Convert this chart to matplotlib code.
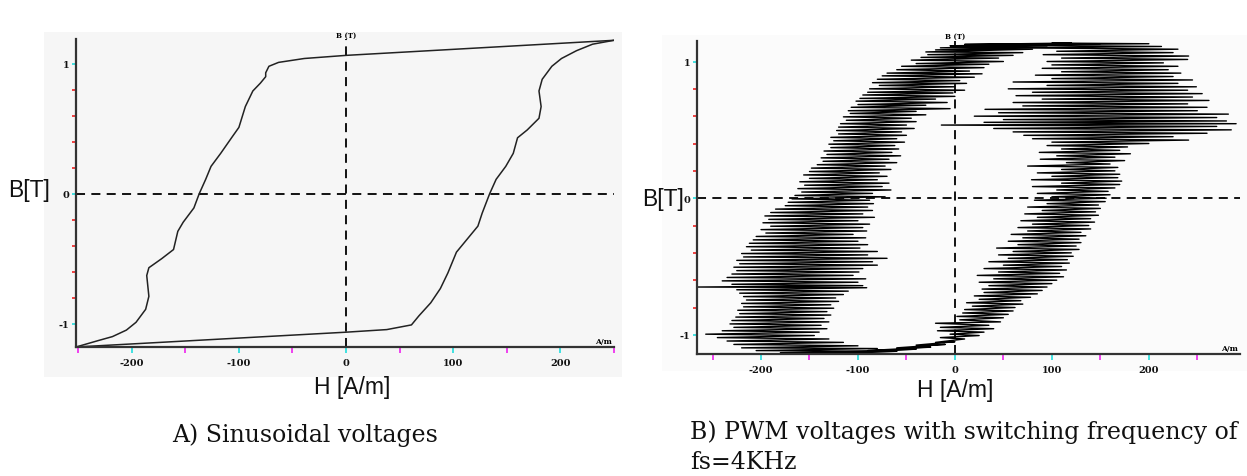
import numpy as np
import matplotlib
matplotlib.use("Agg")
import matplotlib.pyplot as plt

# --- sinusoidal loop (A) as (H [A/m], B [T]) ---
sin_descending = [
    (250, 1.18), (0, 1.064), (-39, 1.04), (-63, 1.01), (-72, 0.98),
    (-75, 0.93), (-75, 0.90), (-80, 0.85), (-87, 0.79), (-94, 0.67),
    (-100, 0.51), (-106, 0.44), (-117, 0.31), (-126, 0.21), (-131, 0.11),
    (-137, 0.0), (-142, -0.11), (-152, -0.22), (-157, -0.29), (-161, -0.43),
    (-172, -0.50), (-184, -0.57), (-186, -0.63), (-185, -0.71), (-184, -0.79),
    (-187, -0.89), (-196, -0.99), (-205, -1.05), (-218, -1.10), (-231, -1.13),
    (-252, -1.18),
]
sin_ascending = [
    (-252, -1.18), (0, -1.066), (38, -1.046), (61, -1.01), (68, -0.94),
    (79, -0.84), (88, -0.73), (95, -0.61), (103, -0.45), (112, -0.36),
    (123, -0.25), (127, -0.15), (134, 0.0), (140, 0.11), (149, 0.21),
    (156, 0.31), (160, 0.43), (169, 0.49), (180, 0.58), (182, 0.67),
    (180, 0.79), (183, 0.88), (192, 0.98), (201, 1.04), (215, 1.10),
    (230, 1.15), (250, 1.18),
]

# --- PWM loop (B), fs = 4 kHz, zig-zag strokes ---
pwm_descending = [
    (120, 1.135), (10, 1.125), (150, 1.13), (-5, 1.115), (110, 1.12), (-15, 1.10),
    (95, 1.105), (-20, 1.085), (80, 1.09), (-30, 1.07), (70, 1.065), (-28, 1.05),
    (60, 1.045), (-35, 1.03), (45, 1.025), (-45, 1.01), (50, 1.0), (-40, 0.985),
    (35, 0.98), (-55, 0.965), (30, 0.955), (-60, 0.94), (15, 0.93), (-70, 0.915),
    (28, 0.91), (-75, 0.895), (20, 0.885), (-80, 0.87), (5, 0.86), (-85, 0.845),
    (12, 0.84), (-78, 0.825), (0, 0.815), (-88, 0.80), (10, 0.79), (-90, 0.775),
    (-2, 0.77), (-95, 0.755), (0, 0.745), (-98, 0.73), (-20, 0.725), (-102, 0.71),
    (-8, 0.70), (-100, 0.685), (-30, 0.68), (-107, 0.665), (-5, 0.655), (-110, 0.64),
    (-40, 0.635), (-108, 0.62), (-30, 0.61), (-115, 0.595), (-45, 0.585), (-112, 0.57),
    (-40, 0.56), (-118, 0.545), (-50, 0.535), (-120, 0.52), (-42, 0.51), (-122, 0.495),
    (-55, 0.485), (-120, 0.47), (-50, 0.46), (-128, 0.445), (-60, 0.435), (-125, 0.42),
    (-52, 0.41), (-130, 0.395), (-62, 0.385), (-128, 0.37), (-58, 0.36), (-135, 0.345),
    (-65, 0.335), (-132, 0.32), (-56, 0.31), (-138, 0.295), (-68, 0.285), (-136, 0.27),
    (-60, 0.26), (-142, 0.245), (-72, 0.235), (-148, 0.22), (-66, 0.21), (-150, 0.195),
    (-78, 0.185), (-156, 0.17), (-70, 0.16), (-150, 0.145), (-80, 0.135), (-160, 0.12),
    (-68, 0.11), (-155, 0.095), (-75, 0.085), (-162, 0.07), (-66, 0.06), (-158, 0.045),
    (-85, 0.035), (-165, 0.02), (-72, 0.01), (-168, -0.005), (-88, -0.015), (-172, -0.03),
    (-84, -0.04), (-175, -0.055), (-90, -0.065), (-185, -0.08), (-85, -0.09), (-190, -0.105),
    (-95, -0.115), (-196, -0.13), (-83, -0.14), (-192, -0.155), (-100, -0.165), (-198, -0.18),
    (-88, -0.19), (-190, -0.205), (-95, -0.215), (-200, -0.23), (-91, -0.24), (-195, -0.255),
    (-105, -0.265), (-205, -0.28), (-92, -0.29), (-208, -0.305), (-100, -0.315), (-212, -0.33),
    (-90, -0.34), (-215, -0.355), (-98, -0.365), (-210, -0.38), (-80, -0.39), (-220, -0.405),
    (-90, -0.415), (-218, -0.43), (-70, -0.44), (-225, -0.455), (-85, -0.465), (-222, -0.48),
    (-80, -0.49), (-228, -0.505), (-95, -0.515), (-225, -0.53), (-99, -0.54), (-230, -0.555),
    (-105, -0.565), (-235, -0.58), (-92, -0.59), (-240, -0.605), (-100, -0.615), (-230, -0.63),
    (-95, -0.64), (-266, -0.65), (-91, -0.655), (-225, -0.67), (-110, -0.68), (-222, -0.695),
    (-115, -0.705), (-218, -0.72), (-123, -0.73), (-215, -0.745), (-120, -0.755), (-220, -0.77),
    (-128, -0.78), (-218, -0.795), (-125, -0.805), (-224, -0.82), (-132, -0.83), (-222, -0.845),
    (-128, -0.855), (-226, -0.87), (-135, -0.88), (-230, -0.895), (-130, -0.905), (-232, -0.92),
    (-138, -0.93), (-228, -0.945), (-132, -0.955), (-240, -0.97), (-140, -0.98), (-257, -0.995),
    (-145, -1.005), (-245, -1.02), (-130, -1.03), (-235, -1.045), (-115, -1.055), (-228, -1.07),
    (-100, -1.08), (-220, -1.095), (-80, -1.10), (-205, -1.115), (-60, -1.12), (-180, -1.13),
    (-110, -1.135),
]
pwm_ascending = [
    (-110, -1.135), (-60, -1.12), (-120, -1.125), (-40, -1.105), (-90, -1.115), (-25, -1.09),
    (-60, -1.095), (-10, -1.07), (-40, -1.075), (0, -1.05), (-20, -1.055), (10, -1.03),
    (-15, -1.02), (25, -1.005), (-5, -0.995), (30, -0.98), (-18, -0.97), (40, -0.955),
    (-15, -0.945), (35, -0.93), (-20, -0.915), (47, -0.905), (5, -0.89), (50, -0.875),
    (2, -0.865), (55, -0.85), (8, -0.84), (60, -0.825), (10, -0.815), (62, -0.80),
    (18, -0.79), (70, -0.775), (12, -0.765), (68, -0.75), (25, -0.74), (78, -0.725),
    (20, -0.715), (85, -0.70), (30, -0.69), (90, -0.675), (28, -0.665), (95, -0.65),
    (35, -0.64), (100, -0.625), (25, -0.615), (105, -0.60), (40, -0.59), (112, -0.575),
    (23, -0.565), (108, -0.55), (45, -0.54), (115, -0.525), (30, -0.515), (110, -0.50),
    (50, -0.49), (118, -0.475), (35, -0.465), (116, -0.45), (55, -0.44), (122, -0.425),
    (45, -0.415), (120, -0.40), (60, -0.39), (128, -0.375), (43, -0.365), (125, -0.35),
    (65, -0.34), (130, -0.325), (55, -0.315), (128, -0.30), (70, -0.29), (135, -0.275),
    (58, -0.265), (130, -0.25), (75, -0.24), (140, -0.225), (65, -0.215), (138, -0.20),
    (80, -0.19), (144, -0.175), (68, -0.165), (140, -0.15), (85, -0.14), (148, -0.125),
    (72, -0.115), (145, -0.10), (90, -0.09), (150, -0.075), (75, -0.065), (148, -0.05),
    (95, -0.04), (155, -0.025), (82, -0.015), (156, 0.0), (100, 0.01), (160, 0.025),
    (85, 0.035), (158, 0.05), (105, 0.06), (165, 0.075), (80, 0.085), (170, 0.10),
    (110, 0.11), (172, 0.125), (79, 0.135), (168, 0.15), (100, 0.16), (170, 0.175),
    (85, 0.185), (165, 0.20), (110, 0.21), (168, 0.225), (75, 0.235), (160, 0.25),
    (115, 0.26), (175, 0.275), (88, 0.285), (165, 0.30), (105, 0.31), (181, 0.325),
    (87, 0.335), (170, 0.35), (110, 0.36), (178, 0.375), (95, 0.385), (200, 0.40),
    (100, 0.41), (241, 0.425), (80, 0.435), (225, 0.45), (71, 0.46), (260, 0.475),
    (60, 0.485), (285, 0.50), (40, 0.51), (270, 0.525), (-14, 0.535), (290, 0.545),
    (30, 0.555), (280, 0.565), (50, 0.575), (270, 0.59), (20, 0.60), (282, 0.615),
    (45, 0.625), (250, 0.64), (31, 0.65), (260, 0.665), (70, 0.675), (240, 0.69),
    (60, 0.70), (262, 0.715), (90, 0.725), (245, 0.74), (63, 0.75), (255, 0.765),
    (80, 0.775), (240, 0.79), (55, 0.80), (249, 0.815), (95, 0.825), (230, 0.84),
    (60, 0.85), (245, 0.865), (100, 0.875), (225, 0.89), (83, 0.90), (233, 0.915),
    (110, 0.925), (220, 0.94), (90, 0.95), (230, 0.965), (100, 0.975), (215, 0.99),
    (95, 1.00), (240, 1.015), (110, 1.025), (241, 1.04), (91, 1.05), (225, 1.065),
    (105, 1.075), (230, 1.09), (60, 1.10), (213, 1.11), (31, 1.12), (200, 1.13),
    (100, 1.135), (120, 1.135),
]

x_major = [-200, -100, 0, 100, 200]
x_minor = [-250, -150, -50, 50, 150, 250]
y_major = [-1, 0, 1]
y_minor = [-0.8, -0.6, -0.4, -0.2, 0.2, 0.4, 0.6, 0.8]

captions = ["A) Sinusoidal voltages",
            "B) PWM voltages with switching frequency of\nfs=4KHz"]

W, H = 1247, 477
fig = plt.figure(figsize=(W / 100, H / 100), dpi=100)


def px_rect(x0, y0, x1, y1):
    # pixel box (top-left origin) -> figure fraction [l, b, w, h]
    return [x0 / W, 1 - y1 / H, (x1 - x0) / W, (y1 - y0) / H]


# light panel backgrounds, added first so they sit under the plots
for box, col in [((44, 33, 622, 378), "#f6f6f6"),
                 ((662, 36, 1247, 372), "#fbfbfb")]:
    bg = fig.add_axes(px_rect(*box))
    bg.set_facecolor(col)
    bg.set_xticks([])
    bg.set_yticks([])
    for s in bg.spines.values():
        s.set_visible(False)


def setup_axes(box, xlim, ylim):
    ax = fig.add_axes(px_rect(*box))
    ax.set_facecolor("none")
    ax.set_xlim(*xlim)
    ax.set_ylim(*ylim)
    for s in ["top", "right"]:
        ax.spines[s].set_visible(False)
    for s in ["left", "bottom"]:
        ax.spines[s].set_color("#333333")
        ax.spines[s].set_linewidth(1.6)
    ax.set_xticks(x_major)
    ax.set_xticks(x_minor, minor=True)
    ax.set_yticks(y_major)
    ax.set_yticks(y_minor, minor=True)
    ax.set_xticklabels([str(v) for v in x_major])
    ax.set_yticklabels([str(v) for v in y_major])
    ax.tick_params(axis="x", which="major", colors="#22dddd", length=4, width=1.2,
                   labelcolor="#111111", labelsize=7, pad=4)
    ax.tick_params(axis="x", which="minor", colors="#ee22ee", length=4, width=1.2)
    ax.tick_params(axis="y", which="major", colors="#22dddd", length=3, width=1.2,
                   labelcolor="#111111", labelsize=7, pad=2)
    ax.tick_params(axis="y", which="minor", colors="#ee2222", length=3, width=1.2)
    for lab in ax.get_xticklabels() + ax.get_yticklabels():
        lab.set_fontweight("bold")
        lab.set_family("DejaVu Serif")
    ax.axhline(0, color="black", lw=1.3, ls=(0, (5, 3.5)), zorder=1)
    ax.axvline(0, color="black", lw=1.3, ls=(0, (5, 3.5)), zorder=1)
    ax.text(0, ylim[1] + 0.005, "B (T)", ha="center", va="bottom", fontsize=5,
            fontweight="bold", family="DejaVu Serif", clip_on=False)
    ax.text(xlim[1] - 2, ylim[0] + 0.015, "A/m", ha="right", va="bottom", fontsize=5.5,
            fontweight="bold", family="DejaVu Serif")
    return ax


# panel A
ax1 = setup_axes((76, 40, 614, 348), (-252, 250), (-1.18, 1.19))
hd, bd = zip(*sin_descending)
ha_, ba = zip(*sin_ascending)
ax1.plot(hd, bd, color="#222222", lw=1.1, zorder=2)
ax1.plot(ha_, ba, color="#222222", lw=1.1, zorder=2)

# panel B
ax2 = setup_axes((697, 42, 1240, 355), (-266, 294), (-1.14, 1.15))
pd_h, pd_b = zip(*pwm_descending)
pa_h, pa_b = zip(*pwm_ascending)
ax2.plot(pd_h, pd_b, color="black", lw=1.0, zorder=2, clip_on=False)
ax2.plot(pa_h, pa_b, color="black", lw=1.0, zorder=2, clip_on=False)

# axis titles
lab_font = dict(family="Liberation Sans", fontsize=16.5, color="#111111")
fig.text(29 / W, 1 - 190 / H, "B[T]", ha="center", va="center", **lab_font)
fig.text(352 / W, 1 - 388 / H, "H [A/m]", ha="center", va="center", **lab_font)
fig.text(663 / W, 1 - 200 / H, "B[T]", ha="center", va="center", **lab_font)
fig.text(955 / W, 1 - 390 / H, "H [A/m]", ha="center", va="center", **lab_font)

# captions
cap_font = dict(family="DejaVu Serif", fontsize=17, color="#111111")
fig.text(172 / W, 1 - 435 / H, captions[0], ha="left", va="center", **cap_font)
fig.text(690 / W, 1 - 420 / H, captions[1], ha="left", va="top",
         linespacing=1.42, **cap_font)

fig.savefig("out.png", dpi=100)
